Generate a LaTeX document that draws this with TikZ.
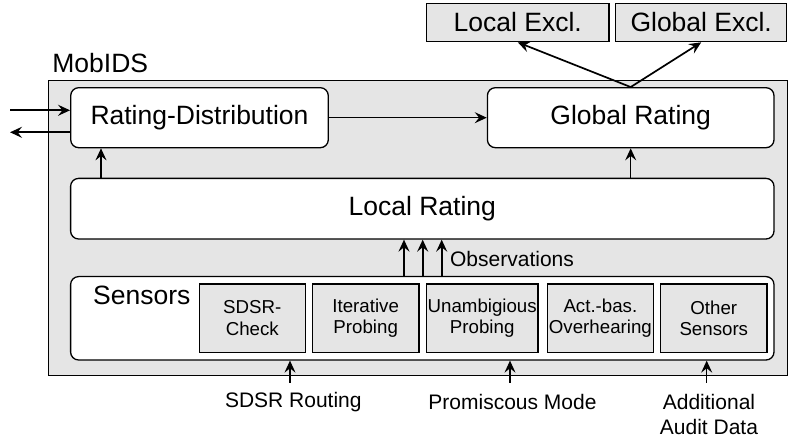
\documentclass[tikz,border=0pt]{standalone}
\usepackage{fontspec}
\setmainfont{Liberation Sans}
\usetikzlibrary{arrows.meta}

\newcommand{\bigtxt}{\fontsize{13.25}{15}\selectfont}
\newcommand{\midtxt}{\fontsize{10.5}{12.5}\selectfont}
\newcommand{\smalltxt}{\fontsize{9.35}{10.75}\selectfont}

\tikzset{
  rbox/.style={draw, fill=white, rounded corners=4pt, inner sep=0pt, font=\bigtxt},
  gbox/.style={draw, fill=gray!20, inner sep=0pt},
  sbox/.style={gbox, align=center, font=\smalltxt, minimum height=34.2pt},
  lbl/.style={inner sep=0pt},
  flow/.style={->, line width=0.85pt},
}

\begin{document}
\begin{tikzpicture}[x=0.5pt,y=-0.5pt,>={Stealth[length=6pt,width=5.5pt,inset=2.2pt]},line width=0.65pt]
  % page: 789 x 442 px, one unit = 1 px
  \useasboundingbox (0,0) rectangle (789,442);

  % MobIDS frame
  \node[gbox, anchor=north west, minimum width=369.5pt, minimum height=147.5pt] (mobids) at (48,80) {};
  \node[lbl, anchor=base west, font=\bigtxt] (mobidslbl) at (51.7,72.7) {MobIDS};

  % rating blocks
  \node[rbox, minimum width=128.8pt, minimum height=30pt] (rd) at (199.5,117.7) {Rating-Distribution};
  \node[rbox, minimum width=143.3pt, minimum height=30pt] (gr) at (630.7,117.7) {Global Rating};
  \node[rbox, minimum width=351.7pt, minimum height=30.3pt] (lr) at (422.3,208.7) {Local Rating};

  % sensors
  \node[rbox, minimum width=351.7pt, minimum height=41.7pt] (sens) at (422.3,318.3) {};
  \node[lbl, anchor=west, font=\bigtxt] (senslbl) at (92.5,295) {Sensors};
  \foreach \nm/\cx/\w/\txt in {sdsr/252.3/53/{SDSR-\\Check},
      iter/365.7/53.2/{Iterative\\Probing},
      unamb/482.2/55.8/{Unambigious\\Probing},
      actbas/600.4/53/{Act.-bas.\\Overhearing},
      other/713.8/53.2/{Other\\Sensors}}
    \node[sbox, minimum width=\w pt] (\nm) at (\cx,318.2) {\txt};

  % exclusion
  \node[gbox, font=\bigtxt, minimum width=91.2pt, minimum height=19.2pt] (lex) at (517.8,22.5) {Local Excl.};
  \node[gbox, font=\bigtxt, minimum width=85.5pt, minimum height=19.2pt] (gex) at (701.2,22.5) {Global Excl.};

  % outside in/out
  \coordinate (inL) at (10,110.3);
  \coordinate (outL) at (10,132.3);
  \draw[flow] (inL) -- (inL -| rd.west);
  \draw[flow] (outL -| rd.west) -- (outL);

  % rating flow
  \coordinate (rdup) at (101,0);
  \draw[->] (rd.east) -- (gr.west);
  \draw[flow] (lr.north -| rdup) -- (rd.south -| rdup);
  \draw[->] (lr.north -| gr) -- (gr.south);
  \draw[flow] (gr.north) -- (lex.south);
  \draw[flow] (gr.north) -- (gex.south);

  % observations
  \foreach \ox in {404,422.7,441.7}
    \draw[flow] (sens.north -| \ox,0) -- (lr.south -| \ox,0);
  \node[lbl, anchor=west, font=\midtxt] (obs) at (449.5,259) {Observations};

  % inputs below
  \node[lbl, font=\midtxt] (sdsrr) at (293.3,401.7) {SDSR Routing};
  \node[lbl, font=\midtxt] (promisc) at (512.5,401.7) {Promiscous Mode};
  \node[lbl, font=\midtxt, align=center] (audit) at (709,414.2) {Additional\\Audit Data};
  \foreach \bx in {290,510,706.7}
    \draw[->] (\bx,383) -- (sens.south -| \bx,0);
\end{tikzpicture}
\end{document}
